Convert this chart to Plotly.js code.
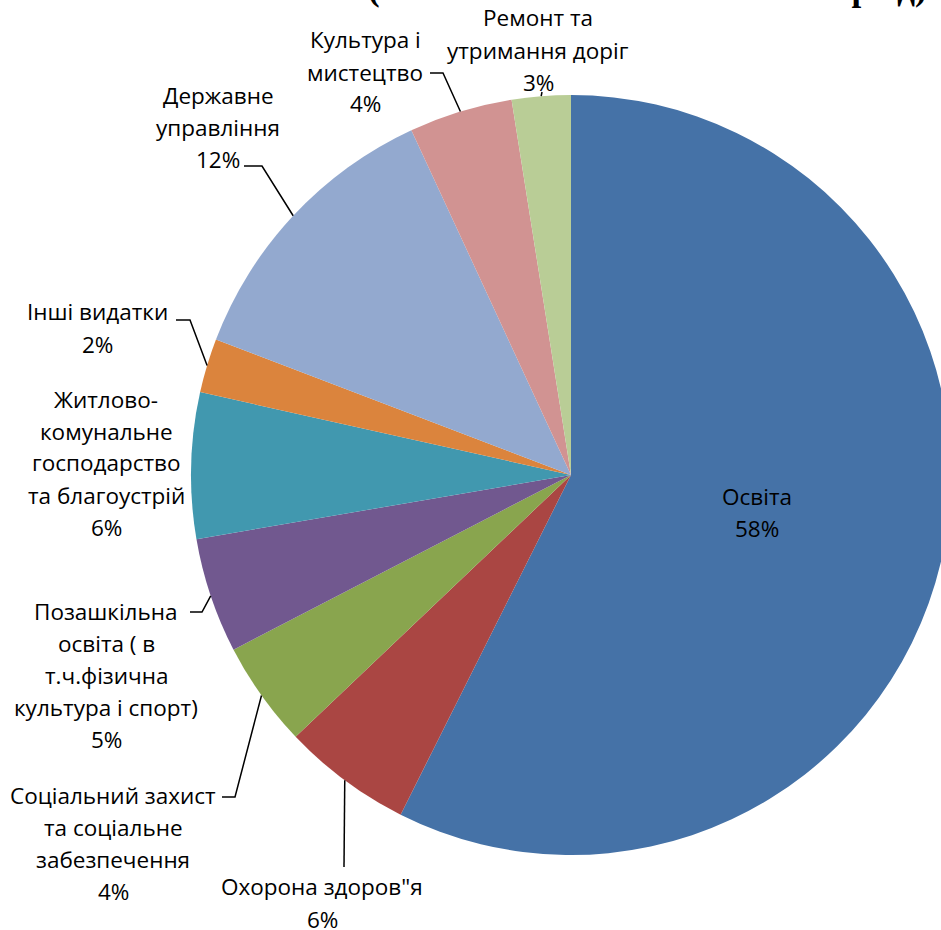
<!DOCTYPE html>
<html>
<head>
<meta charset="utf-8">
<script src="https://cdn.plot.ly/plotly-3.0.1.min.js"></script>
<style>
html,body{margin:0;padding:0;overflow:hidden;background:#fff;}
#chart{width:1000px;height:930px;}
</style>
</head>
<body>
<div id="chart"></div>
<script>
// ---- data ----
const categories = ["Освіта","Охорона здоров\"я","Соціальний захист та соціальне забезпечення","Позашкільна освіта ( в т.ч.фізична культура і спорт)","Житлово-комунальне господарство та благоустрій","Інші видатки","Державне управління","Культура і мистецтво","Ремонт та утримання доріг"];
const values = [57.4, 5.5, 4.5, 4.9, 6.2, 2.3, 12.3, 4.4, 2.5];
const percentLabels = ["58%","6%","4%","5%","6%","2%","12%","4%","3%"];
const labelLines = [
  ["Освіта"],
  ["Охорона здоров\"я"],
  ["Соціальний захист","та соціальне","забезпечення"],
  ["Позашкільна","освіта ( в","т.ч.фізична","культура і спорт)"],
  ["Житлово-","комунальне","господарство","та благоустрій"],
  ["Інші видатки"],
  ["Державне","управління"],
  ["Культура і","мистецтво"],
  ["Ремонт та","утримання доріг"]
];
const colors = ["#4572A7","#AA4643","#89A54E","#71588F","#4198AF","#DB843D","#93A9CF","#D19392","#B9CD96"];
const titleText = "(загальний обсяг за звітний період)";

// ---- layout geometry ----
const W = 1000, H = 930;
const M = {l:191, r:49, t:95, b:75};
const PW = W - M.l - M.r, PH = H - M.t - M.b;
const cx = M.l + PW/2, cy = M.t + PH/2, R = Math.min(PW,PH)/2;
const px = x => (x - M.l)/PW;
const py = y => 1 - (y - M.t)/PH;

// label block centers (pixel), line spacing
const labelPos = [
  [757,512],[322,903],[113,843],[106,675],[106,463],[97,328],[218,127],[365,72],[538,50]
];
const LS = 32;
// leader elbows: [elbowX, elbowY, endX]
const elbows = [
  null,
  [344,867,344],
  [235,797,222],
  [202,612,190],
  null,
  [190,320,176],
  [262,166,244],
  [443,73,430],
  [542,92,542]
];

const total = values.reduce((a,b)=>a+b,0);
let cum = 0;
const shapes = [];
const annotations = [];
const font = {family:"Open Sans, Roboto, sans-serif", size:22.5, color:"#000"};
values.forEach((v,i)=>{
  const mid = (cum + v/2)/total*2*Math.PI;
  cum += v;
  const ex = cx + R*Math.sin(mid), ey = cy - R*Math.cos(mid);
  const lines = labelLines[i].concat([percentLabels[i]]);
  const n = lines.length;
  lines.forEach((t,k)=>{
    annotations.push({
      xref:'paper', yref:'paper', x:px(labelPos[i][0]),
      y:py(labelPos[i][1] + (k-(n-1)/2)*LS),
      xanchor:'center', yanchor:'middle', showarrow:false, borderpad:0,
      text:t, font:font, align:'center'
    });
  });
  const e = elbows[i];
  if (e) {
    shapes.push({type:'path', xref:'paper', yref:'paper',
      path:`M ${px(ex)} ${py(ey)} L ${px(e[0])} ${py(e[1])} L ${px(e[2])} ${py(e[1])}`,
      line:{color:'#000', width:1.5}});
  }
});

annotations.push({
  xref:'paper', yref:'paper', x:px(647), y:py(9), xanchor:'center', yanchor:'bottom',
  showarrow:false, borderpad:0, text:'<b>'+titleText+'</b>',
  font:{family:"Liberation Serif, Times New Roman, serif", size:35, color:'#000'}
});

const data = [{
  type:'pie', labels:categories, values:values, sort:false, direction:'clockwise', rotation:0,
  marker:{colors:colors, line:{width:0}}, textinfo:'none', hoverinfo:'label+percent',
  domain:{x:[0,1], y:[0,1]}, showlegend:false
}];
const layout = {
  width:W, height:H, margin:M, paper_bgcolor:'#fff', plot_bgcolor:'#fff',
  showlegend:false, shapes:shapes, annotations:annotations
};
Plotly.newPlot('chart', data, layout, {displayModeBar:false, staticPlot:true});
</script>
</body>
</html>
